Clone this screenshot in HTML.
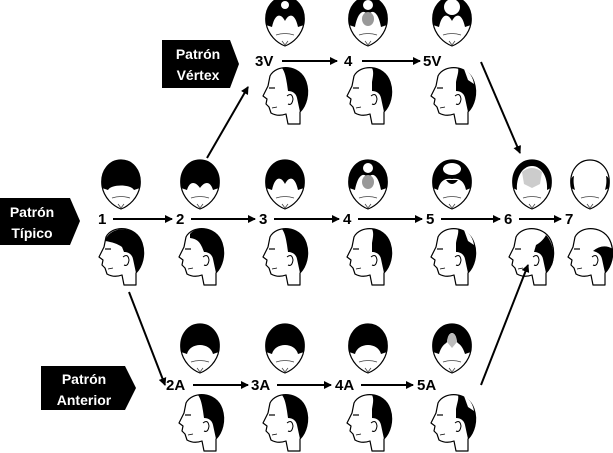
<!DOCTYPE html>
<html><head><meta charset="utf-8"><style>
html,body{margin:0;padding:0;background:#fff;}
svg{display:block}
text{font-family:"Liberation Sans",sans-serif;font-weight:bold;}
</style></head><body>
<svg width="613" height="453" viewBox="0 0 613 453" xmlns="http://www.w3.org/2000/svg">
<defs>
<marker id="ah" markerWidth="8" markerHeight="8" refX="7" refY="4" orient="auto" markerUnits="userSpaceOnUse"><path d="M0,0 L8,4 L0,8 Z" fill="#000"/></marker>
<g id="face">
<path d="M-19,2 C-21,-14 -11,-24 0,-24 C11,-24 21,-14 19,2 C17,14 8,22 0,25 C-8,22 -17,14 -19,2 Z" fill="#fff" stroke="#000" stroke-width="1.2"/>
<path d="M-9,14 Q0,11 9,14 M-3,20 L0,24 L3,20" fill="none" stroke="#444" stroke-width="0.8"/>
</g>
<g id="t1"><use href="#face"/><path d="M-19,4 C-22,-14 -11,-24 0,-24 C11,-24 22,-14 19,4 L13,6 C10,0 -10,0 -13,6 Z" fill="#000"/></g>
<g id="t2"><use href="#face"/><path d="M-19,4 C-22,-14 -11,-24 0,-24 C11,-24 22,-14 19,4 L13,6 C10,-4 4,-2 0,4 C-4,-2 -10,-4 -13,6 Z" fill="#000"/></g>
<g id="t3"><use href="#face"/><path d="M-19,4 C-22,-14 -11,-24 0,-24 C11,-24 22,-14 19,4 L13,6 C10,-8 4,-8 0,0 C-4,-8 -10,-8 -13,6 Z" fill="#000"/></g>
<g id="t3v"><use href="#t3"/><circle cx="0" cy="-16" r="4" fill="#fff"/></g>
<g id="t4"><use href="#face"/><path d="M-19,4 C-22,-14 -11,-24 0,-24 C11,-24 22,-14 19,4 L13,6 C10,-10 4,-12 0,-6 C-4,-12 -10,-10 -13,6 Z" fill="#000"/><ellipse cx="0" cy="-2" rx="6" ry="7" fill="#999"/><circle cx="0" cy="-16" r="5" fill="#fff"/></g>
<g id="t5v"><use href="#t3"/><circle cx="0" cy="-14" r="8" fill="#fff"/></g>
<g id="t5"><use href="#face"/><path d="M-19,4 C-22,-14 -11,-24 0,-24 C11,-24 22,-14 19,4 L14,6 C12,-4 6,-6 0,-5 C-6,-6 -12,-4 -14,6 Z" fill="#000"/><ellipse cx="0" cy="-15" rx="9" ry="6" fill="#fff"/><path d="M-6,-4 Q0,4 6,-4 Z" fill="#000"/></g>
<g id="t6"><use href="#face"/><path d="M-19,4 C-22,-14 -11,-24 0,-24 C11,-24 22,-14 19,4 L15,6 C16,-6 10,-18 0,-18 C-10,-18 -16,-6 -15,6 Z" fill="#000"/><path d="M-10,-12 Q0,-20 10,-12 L8,0 L0,4 L-8,0 Z" fill="#ccc"/></g>
<g id="t7"><use href="#face"/><path d="M-19,4 C-20,-4 -18,-8 -16,-8 C-17,-2 -16,2 -15,6 Z M19,4 C20,-4 18,-8 16,-8 C17,-2 16,2 15,6 Z" fill="#000"/></g>
<g id="tA"><use href="#face"/><path d="M-19,4 C-22,-14 -11,-24 0,-24 C11,-24 22,-14 19,4 L13,6 C10,-6 -10,-6 -13,6 Z" fill="#000"/></g>
<g id="tA5"><use href="#face"/><path d="M-19,4 C-22,-14 -11,-24 0,-24 C11,-24 22,-14 19,4 L13,6 C10,-4 6,-4 5,-6 C4,-18 -4,-18 -5,-6 C-6,-4 -10,-4 -13,6 Z" fill="#000"/><path d="M-5,-6 C-4,-18 4,-18 5,-6 L0,0 Z" fill="#bbb"/></g>

<g id="side">
<path d="M-12,-18 C-6,-30 18,-30 24,-12 C28,0 24,12 18,18 L18,30 L6,30 L4,20 Q-4,23 -11,19 L-13,13 L-16,10 L-15,5 L-19,2 L-14,-8 Z" fill="#fff" stroke="#000" stroke-width="1.2" stroke-linejoin="round"/>
<path d="M5,2 Q10,-2 11,5 Q10,12 6,10" fill="none" stroke="#000" stroke-width="1"/>
<path d="M-13,-6 L-7,-6" stroke="#000" stroke-width="1.2"/>
<path d="M-10,14 L-5,13" stroke="#000" stroke-width="0.8"/>
</g>
<g id="s1"><use href="#side"/><path d="M-13,-14 C-8,-30 18,-30 24,-12 C28,0 24,12 18,18 L15,4 C14,-1 10,-3 6,-3 L4,-8 C0,-11 -6,-13 -13,-14 Z" fill="#000"/></g>
<g id="s2"><use href="#side"/><path d="M-8,-21 C-2,-29 18,-30 24,-12 C28,0 24,12 18,18 L15,4 C14,-1 10,-3 6,-3 L4,-8 C2,-12 0,-16 -8,-17 Z" fill="#000"/></g>
<g id="s3"><use href="#side"/><path d="M0,-26 C10,-28 20,-22 24,-12 C28,0 24,12 18,18 L15,4 C14,-1 10,-3 6,-3 L5,-10 C4,-16 3,-22 0,-26 Z" fill="#000"/></g>
<g id="s4"><use href="#side"/><path d="M6,-26 C14,-26 21,-20 24,-12 C28,0 24,12 18,18 L15,4 C14,-1 10,-3 6,-3 L6,-12 C7,-18 8,-22 6,-26 Z" fill="#000"/></g>
<g id="s5"><use href="#side"/><path d="M8,-26 C14,-26 21,-20 24,-12 C28,0 24,12 18,18 L15,4 C14,-1 10,-3 6,-3 L6,-12 C7,-18 9,-22 8,-26 Z" fill="#000"/><path d="M14,-25 C20,-22 23,-16 24,-10 L18,-14 Z" fill="#fff"/></g>
<g id="s6"><use href="#side"/><path d="M18,-20 C24,-14 28,0 24,10 L18,18 L15,4 C14,-1 10,-3 6,-3 L8,-10 C12,-12 16,-16 18,-20 Z" fill="#000"/></g>
<g id="s7"><use href="#side"/><path d="M6,-4 Q16,-12 26,-6 C27,4 23,12 18,18 L15,4 C14,-1 10,-3 6,-4 Z" fill="#000"/></g>
</defs>

<!-- label boxes -->
<path d="M162,40 L230,40 L239,64 L230,88 L162,88 Z" fill="#000"/>
<text x="198" y="59" fill="#fff" font-size="14" text-anchor="middle">Patrón</text>
<text x="198" y="80" fill="#fff" font-size="14" text-anchor="middle">Vértex</text>
<path d="M0,198 L70,198 L80,221 L70,245 L0,245 Z" fill="#000"/>
<text x="32" y="217" fill="#fff" font-size="14" text-anchor="middle">Patrón</text>
<text x="32" y="238" fill="#fff" font-size="14" text-anchor="middle">Típico</text>
<path d="M41,366 L125,366 L136,388 L125,410 L41,410 Z" fill="#000"/>
<text x="84" y="384" fill="#fff" font-size="14" text-anchor="middle">Patrón</text>
<text x="84" y="405" fill="#fff" font-size="14" text-anchor="middle">Anterior</text>

<!-- top row -->
<use href="#t3v" x="285" y="21"/><use href="#t4" x="368" y="21"/><use href="#t5v" x="452" y="21"/>
<use href="#s3" x="282" y="94"/><use href="#s4" x="366" y="94"/><use href="#s5" x="450" y="94"/>
<g font-size="15" fill="#000"><text x="255" y="66">3V</text><text x="344" y="66">4</text><text x="423" y="66">5V</text></g>
<g stroke="#000" stroke-width="2" marker-end="url(#ah)">
<line x1="282" y1="61" x2="337" y2="61"/><line x1="362" y1="61" x2="420" y2="61"/>
</g>

<!-- middle row -->
<use href="#t1" x="121" y="184"/><use href="#t2" x="200" y="184"/><use href="#t3" x="285" y="184"/><use href="#t4" x="368" y="184"/><use href="#t5" x="452" y="184"/><use href="#t6" x="532" y="184"/><use href="#t7" x="590" y="184"/>
<use href="#s1" x="118" y="255"/><use href="#s2" x="198" y="255"/><use href="#s3" x="282" y="255"/><use href="#s4" x="366" y="255"/><use href="#s5" x="450" y="255"/><use href="#s6" x="528" y="255"/><use href="#s7" x="587" y="255"/>
<g font-size="15" fill="#000"><text x="98" y="224">1</text><text x="176" y="224">2</text><text x="259" y="224">3</text><text x="343" y="224">4</text><text x="426" y="224">5</text><text x="504" y="224">6</text><text x="565" y="224">7</text></g>
<g stroke="#000" stroke-width="2" marker-end="url(#ah)">
<line x1="113" y1="219" x2="172" y2="219"/><line x1="191" y1="219" x2="255" y2="219"/><line x1="274" y1="219" x2="339" y2="219"/><line x1="358" y1="219" x2="422" y2="219"/><line x1="441" y1="219" x2="500" y2="219"/><line x1="519" y1="219" x2="561" y2="219"/>
<line x1="207" y1="158" x2="248" y2="87"/>
<line x1="481" y1="62" x2="520" y2="153"/>
<line x1="129" y1="292" x2="165" y2="385"/>
<line x1="481" y1="385" x2="528" y2="265"/>
</g>

<!-- bottom row -->
<use href="#tA" x="200" y="348"/><use href="#tA" x="285" y="348"/><use href="#tA" x="368" y="348"/><use href="#tA5" x="452" y="348"/>
<use href="#s3" x="198" y="421"/><use href="#s3" x="282" y="421"/><use href="#s4" x="366" y="421"/><use href="#s5" x="450" y="421"/>
<g font-size="15" fill="#000"><text x="166" y="390">2A</text><text x="251" y="390">3A</text><text x="335" y="390">4A</text><text x="417" y="390">5A</text></g>
<g stroke="#000" stroke-width="2" marker-end="url(#ah)">
<line x1="193" y1="385" x2="248" y2="385"/><line x1="277" y1="385" x2="331" y2="385"/><line x1="361" y1="385" x2="413" y2="385"/>
</g>
</svg>
</body></html>
